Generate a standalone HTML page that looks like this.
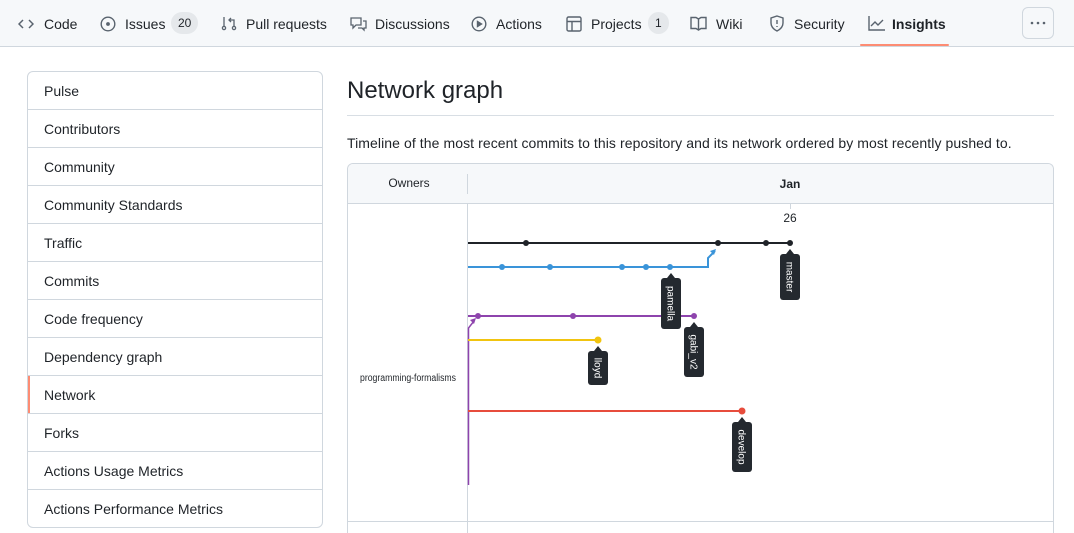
<!DOCTYPE html>
<html><head><meta charset="utf-8"><style>
*{box-sizing:border-box;margin:0;padding:0}
html,body{width:1074px;height:533px;overflow:hidden}
body{background:#fff;font-family:"Liberation Sans",sans-serif;color:#1f2328;position:relative}
.nav{position:absolute;left:0;top:0;width:1074px;height:47px;background:#f6f8fa;border-bottom:1px solid #d0d7de}
.it{position:absolute;top:15px;font-size:14px;line-height:18px;color:#1f2328;white-space:nowrap}
.cnt{position:absolute;top:-3px;height:22px;line-height:22px;background:#e5e8eb;border-radius:11px;font-size:12px;padding:0 7px}
.ic{position:absolute;top:15px}
.side{position:absolute;left:27px;top:71px;width:296px;height:457px;border:1px solid #d0d7de;border-radius:6px;overflow:hidden}
.si{height:38px;border-bottom:1px solid #d0d7de;font-size:14px;padding-left:16px;line-height:38px}
.si:last-child{border-bottom:none}
</style></head><body>
<div class="nav">
<svg class="ic" style="left:18px;top:16px" width="16" height="16" viewBox="0 0 16 16" fill="none" stroke="#59636e" stroke-width="1.5"><path d="M5 4L1 8l4 4M11 4l4 4-4 4"/></svg>
<div class="it" style="left:44px">Code</div>
<svg class="ic" style="left:100px;top:16px" width="16" height="16" viewBox="0 0 16 16" fill="none" stroke="#59636e" stroke-width="1.4"><circle cx="8" cy="8" r="6.8"/><circle cx="8" cy="8" r="1.2" fill="#59636e"/></svg>
<div class="it" style="left:125px">Issues<span class="cnt" style="left:46px">20</span></div>
<svg class="ic" style="left:221px;top:15px" width="16" height="16" viewBox="0 0 16 16" fill="none" stroke="#59636e" stroke-width="1.3"><circle cx="3" cy="13" r="1.6"/><circle cx="13" cy="13" r="1.6"/><path d="M3 2v9M13 11V5H8M10 3L8 5l2 2"/></svg>
<div class="it" style="left:246px">Pull requests</div>
<svg class="ic" style="left:350px;top:16px" width="17" height="16" viewBox="0 0 17 16" fill="none" stroke="#59636e" stroke-width="1.3"><path d="M1 2h10v7H6l-3 3V9H1zM13 5h3v7h-2v2l-2-2H8"/></svg>
<div class="it" style="left:375px">Discussions</div>
<svg class="ic" style="left:471px;top:16px" width="16" height="16" viewBox="0 0 16 16" fill="none" stroke="#59636e" stroke-width="1.4"><circle cx="8" cy="8" r="6.8"/><path d="M6.5 5.5v5l4-2.5z" fill="#59636e"/></svg>
<div class="it" style="left:496px">Actions</div>
<svg class="ic" style="left:566px;top:16px" width="16" height="16" viewBox="0 0 16 16" fill="none" stroke="#59636e" stroke-width="1.4"><rect x="1" y="1" width="14" height="14" rx="1.5"/><path d="M1 5.5h14M6 5.5V15"/></svg>
<div class="it" style="left:591px">Projects<span class="cnt" style="left:57px">1</span></div>
<svg class="ic" style="left:690px;top:16px" width="17" height="15" viewBox="0 0 17 15" fill="none" stroke="#59636e" stroke-width="1.4"><path d="M1 1.5h5l2.5 1.5L11 1.5h5v11h-5l-2.5 1.5L6 12.5H1zM8.5 3v11"/></svg>
<div class="it" style="left:716px">Wiki</div>
<svg class="ic" style="left:769px;top:15px" width="16" height="17" viewBox="0 0 16 17" fill="none" stroke="#59636e" stroke-width="1.4"><path d="M8 1l6 2v5c0 4-3 6.5-6 8-3-1.5-6-4-6-8V3z"/><path d="M8 5v4M8 11v1"/></svg>
<div class="it" style="left:794px">Security</div>
<svg class="ic" style="left:868px;top:16px" width="17" height="15" viewBox="0 0 17 15" fill="none" stroke="#59636e" stroke-width="1.4"><path d="M1 0v14h16M3 10l4-4 3 3 5-5"/></svg>
<div class="it" style="left:892px;font-weight:bold">Insights</div>
<div style="position:absolute;left:860px;top:44px;width:89px;height:2px;background:#fd8c73;border-radius:2px"></div>
<div style="position:absolute;left:1022px;top:7px;width:32px;height:32px;border:1px solid #d0d7de;border-radius:6px"><svg width="30" height="30"><g fill="#59636e"><circle cx="9" cy="15" r="1.3"/><circle cx="15" cy="15" r="1.3"/><circle cx="21" cy="15" r="1.3"/></g></svg></div>
</div>

<div class="side">
<div class="si">Pulse</div><div class="si">Contributors</div><div class="si">Community</div><div class="si">Community Standards</div><div class="si">Traffic</div><div class="si">Commits</div><div class="si">Code frequency</div><div class="si">Dependency graph</div><div class="si" style="box-shadow:inset 2px 0 0 #fd8c73">Network</div><div class="si">Forks</div><div class="si">Actions Usage Metrics</div><div class="si">Actions Performance Metrics</div>
</div>

<div style="position:absolute;left:347px;top:77px;font-size:24px">Network graph</div>
<div style="position:absolute;left:347px;top:115px;width:707px;height:1px;background:#d8dee4"></div>
<div style="position:absolute;left:347px;top:135px;font-size:14px;letter-spacing:0.08px;white-space:nowrap">Timeline of the most recent commits to this repository and its network ordered by most recently pushed to.</div>

<div style="position:absolute;left:347px;top:163px;width:707px;height:370px;border:1px solid #d0d7de;border-bottom:none;border-radius:6px 6px 0 0;overflow:hidden">
<div style="height:40px;background:#f6f8fa;border-bottom:1px solid #d0d7de"></div>
</div>

<svg style="position:absolute;left:0;top:0" width="1074" height="533" font-family="Liberation Sans,sans-serif">
<line x1="467.5" y1="174" x2="467.5" y2="194" stroke="#d0d7de"/>
<text x="409" y="187" font-size="12" text-anchor="middle" fill="#1f2328">Owners</text>
<text x="790" y="188" font-size="12" font-weight="bold" text-anchor="middle" fill="#1f2328">Jan</text>
<line x1="467.5" y1="204" x2="467.5" y2="533" stroke="#d0d7de"/>
<line x1="348" y1="521.5" x2="1053" y2="521.5" stroke="#d0d7de"/>
<line x1="790.5" y1="204" x2="790.5" y2="209" stroke="#d0d7de"/>
<text x="790" y="222" font-size="12" text-anchor="middle" fill="#1f2328">26</text>
<text x="360" y="381" font-size="10" textLength="96" lengthAdjust="spacingAndGlyphs" fill="#1f2328">programming-formalisms</text>
<line x1="468" y1="243" x2="790" y2="243" stroke="#1f2328" stroke-width="2"/>
<g fill="#1f2328"><circle cx="526" cy="243" r="3"/><circle cx="718" cy="243" r="3"/><circle cx="766" cy="243" r="3"/><circle cx="790" cy="243" r="3"/></g>
<path d="M468 267H708V258L715 251" stroke="#3a94d9" stroke-width="2" fill="none"/>
<path d="M716 249l-6 2 4 4z" fill="#3a94d9"/>
<g fill="#3a94d9"><circle cx="502" cy="267" r="3"/><circle cx="550" cy="267" r="3"/><circle cx="622" cy="267" r="3"/><circle cx="646" cy="267" r="3"/><circle cx="670" cy="267" r="3"/></g>
<line x1="468" y1="316" x2="694" y2="316" stroke="#8e44ad" stroke-width="2"/>
<path d="M468.5 485V328L474 321" stroke="#8e44ad" stroke-width="1.5" fill="none"/>
<path d="M476 318l-6 2 4 4z" fill="#8e44ad"/>
<g fill="#8e44ad"><circle cx="478" cy="316" r="3"/><circle cx="573" cy="316" r="3"/><circle cx="694" cy="316" r="3"/></g>
<line x1="468" y1="340" x2="598" y2="340" stroke="#f1c40f" stroke-width="2"/>
<circle cx="598" cy="340" r="3.5" fill="#f1c40f"/>
<line x1="468" y1="411" x2="742" y2="411" stroke="#e74c3c" stroke-width="2"/>
<circle cx="742" cy="411" r="3.5" fill="#e74c3c"/>
<g fill="#24292f">
<rect x="780" y="254" width="20" height="46" rx="3"/><path d="M786 254l4-5 4 5z"/>
<rect x="661" y="278" width="20" height="51" rx="3"/><path d="M667 278l4-5 4 5z"/>
<rect x="684" y="327" width="20" height="50" rx="3"/><path d="M690 327l4-5 4 5z"/>
<rect x="588" y="351" width="20" height="34" rx="3"/><path d="M594 351l4-5 4 5z"/>
<rect x="732" y="422" width="20" height="50" rx="3"/><path d="M738 422l4-5 4 5z"/>
</g>
<g fill="#fff" font-size="10" text-anchor="middle">
<text transform="translate(786.5,277) rotate(90)">master</text>
<text transform="translate(667.5,303.5) rotate(90)">pamella</text>
<text transform="translate(690.5,352) rotate(90)">gabi_v2</text>
<text transform="translate(594.5,368) rotate(90)">lloyd</text>
<text transform="translate(738.5,447) rotate(90)">develop</text>
</g>
</svg>
</body></html>
